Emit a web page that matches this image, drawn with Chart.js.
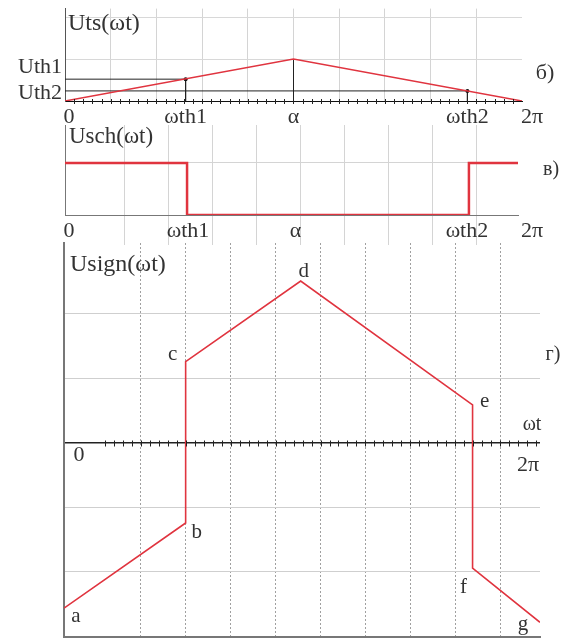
<!DOCTYPE html>
<html>
<head>
<meta charset="utf-8">
<script src="https://cdn.jsdelivr.net/npm/chart.js@4.4.0/dist/chart.umd.min.js"></script>
<style>
  body { margin: 0; background: #fff; }
  #wrap { position: relative; width: 566px; height: 641px; }
  canvas { position: absolute; left: 0; }
</style>
</head>
<body>
<div id="wrap">
  <canvas id="ts" width="566" height="125" style="top:0"></canvas>
  <canvas id="sch" width="566" height="140" style="top:108px"></canvas>
  <canvas id="sign" width="566" height="405" style="top:236px"></canvas>
</div>
<script>
(function () {
    "use strict";

    // angles in degrees, 2π = 360
    var axisLabels = ["0", "ωth1", "α", "ωth2", "2π"];

    // б) Uts(ωt)
    var tsX = [0, 180, 360];
    var tsY = [0, 1, 0];
    var thAngles = [95, 317];      // ωth1, ωth2
    var thLevels = [0.52, 0.24];   // Uth1, Uth2

    // в) Usch(ωt)
    var schX = [0, 97, 97, 321, 321, 360];
    var schY = [1, 1, 0, 0, 1, 1];

    // г) Usign(ωt)
    var signX = [0, 92, 92, 179, 309, 309, 360];
    var signY = [-2.56, -1.24, 1.26, 2.51, 0.59, -1.94, -2.78];
    var signNames = ["a", "b", "c", "d", "e", "f", "g"];

    var RED = "#e0343f";
    var FONT = '"Liberation Serif", "Times New Roman", serif';

    function pts(xs, ys) {
        return xs.map(function (x, i) { return { x: x, y: ys[i] }; });
    }
    function fixedTicks(list) {
        return function (scale) {
            scale.ticks = list.map(function (v) { return { value: v }; });
        };
    }
    function noWidth(s) { s.width = 0; }
    function noHeight(s) { s.height = 0; }

    // Text labels and minor axis ticks
    var textPlugin = {
        id: "texts",
        afterDraw: function (chart, args, opts) {
            var ctx = chart.ctx, sx = chart.scales.x, sy = chart.scales.y;
            var top = chart.canvas.offsetTop;
            ctx.save();
            if (opts.minor) {
                var m = opts.minor;
                var py = Math.round(sy.getPixelForValue(m.y)) + 0.5;
                ctx.strokeStyle = "#222";
                ctx.lineWidth = 1;
                for (var v = m.from; v <= m.to + 0.01; v += m.step) {
                    var px = Math.round(sx.getPixelForValue(v)) + 0.5;
                    ctx.beginPath();
                    ctx.moveTo(px, py - m.len);
                    ctx.lineTo(px, py + m.len);
                    ctx.stroke();
                }
            }
            ctx.fillStyle = "#333";
            ctx.textBaseline = "middle";
            (opts.items || []).forEach(function (t) {
                ctx.font = (t.size || 22) + "px " + FONT;
                ctx.textAlign = t.align || "center";
                var x = t.px !== undefined ? t.px : sx.getPixelForValue(t.x) + (t.dx || 0);
                var y = t.py !== undefined ? t.py - top : sy.getPixelForValue(t.y) + (t.dy || 0);
                ctx.fillText(t.text, x, y);
            });
            ctx.restore();
        }
    };

    function baseOptions(padding, x, y, texts) {
        return {
            responsive: false,
            animation: false,
            layout: { padding: padding },
            plugins: { legend: { display: false }, tooltip: { enabled: false }, texts: texts },
            scales: { x: x, y: y }
        };
    }

    // ---- б) ----
    var tsTexts = [
        { text: "Uts(ωt)", px: 68, py: 24, align: "left", size: 24 },
        { text: "Uth1", px: 62, py: 67, align: "right" },
        { text: "Uth2", px: 62, py: 93, align: "right" },
        { text: "б)", px: 545, py: 73 }
    ];
    var tsKeys = [0, thAngles[0], tsX[1], thAngles[1], 360];
    var tsDx = [4, 0, 0, 0, 10];
    tsKeys.forEach(function (v, i) {
        tsTexts.push({ text: axisLabels[i], x: v, dx: tsDx[i], py: 117 });
    });

    new Chart(document.getElementById("ts"), {
        type: "scatter",
        data: {
            datasets: [
                { data: pts(tsX, tsY), showLine: true, borderColor: RED, borderWidth: 1.5, pointRadius: 0 },
                { data: pts([0, thAngles[0], thAngles[0]], [thLevels[0], thLevels[0], 0]), showLine: true,
                  borderColor: "#222", borderWidth: 1, pointRadius: [0, 2, 0], pointBackgroundColor: "#111", pointBorderWidth: 0 },
                { data: pts([0, thAngles[1], thAngles[1]], [thLevels[1], thLevels[1], 0]), showLine: true,
                  borderColor: "#222", borderWidth: 1, pointRadius: [0, 2, 0], pointBackgroundColor: "#111", pointBorderWidth: 0 },
                { data: pts([tsX[1], tsX[1]], [0, tsY[1]]), showLine: true, borderColor: "#222", borderWidth: 1, pointRadius: 0 }
            ]
        },
        options: baseOptions(
            { left: 65, right: 44, top: 8.6, bottom: 24 },
            { type: "linear", min: 0, max: 360, afterFit: noHeight,
              afterBuildTicks: fixedTicks([36, 72, 108, 144, 180, 216, 252, 288, 324]),
              ticks: { display: false }, grid: { color: "#d4d4d4", drawTicks: false },
              border: { color: "#111", width: 1 } },
            { min: 0, max: 2.2, afterFit: noWidth, afterBuildTicks: fixedTicks([1, 2]),
              ticks: { display: false }, grid: { color: "#d8d8d8", drawTicks: false },
              border: { color: "#555", width: 1 } },
            { items: tsTexts, minor: { y: 0, from: 7.2, to: 356, step: 7.2, len: 2.5 } }
        ),
        plugins: [textPlugin]
    });

    // ---- в) ----
    var schTexts = [
        { text: "Usch(ωt)", px: 69, py: 137, align: "left", size: 23 },
        { text: "в)", px: 551, py: 170, size: 20 }
    ];
    var schKeys = [0, schX[1], 180, schX[3], 360];
    var schDx = [4, 1, 4, -2, 14];
    schKeys.forEach(function (v, i) {
        schTexts.push({ text: axisLabels[i], x: v, dx: schDx[i], py: 231 });
    });

    new Chart(document.getElementById("sch"), {
        type: "scatter",
        data: {
            datasets: [
                { data: pts(schX, schY), showLine: true, borderColor: RED, borderWidth: 2.5, pointRadius: 0 }
            ]
        },
        options: baseOptions(
            { left: 65, right: 48, top: 17, bottom: 33 },
            { type: "linear", min: 0, max: 360, afterFit: noHeight,
              afterBuildTicks: fixedTicks([47, 82, 117, 152, 187, 222, 257, 292, 327]),
              ticks: { display: false }, grid: { color: "#d4d4d4", tickLength: 30 },
              border: { color: "#777", width: 1 } },
            { min: 0, max: 1.73, afterFit: noWidth, afterBuildTicks: fixedTicks([1]),
              ticks: { display: false }, grid: { color: "#d4d4d4", drawTicks: false },
              border: { color: "#777", width: 1 } },
            { items: schTexts }
        ),
        plugins: [textPlugin]
    });

    // ---- г) ----
    var signTexts = [
        { text: "Usign(ωt)", px: 70, py: 265, align: "left", size: 24 },
        { text: "г)", px: 553, py: 355, size: 20 },
        { text: "ωt", px: 532, py: 425, size: 20 },
        { text: "0", px: 79, py: 455 },
        { text: "2π", px: 528, py: 465 }
    ];
    var nameDx = [12, 11, -13, 3, 12, -9, -17];
    var nameDy = [8, 10, -7, -10, -3, 19, 2];
    signNames.forEach(function (n, i) {
        signTexts.push({ text: n, x: signX[i], y: signY[i], dx: nameDx[i], dy: nameDy[i], size: 21 });
    });

    new Chart(document.getElementById("sign"), {
        type: "scatter",
        data: {
            datasets: [
                { data: pts(signX, signY), showLine: true, borderColor: RED, borderWidth: 1.6, pointRadius: 0 }
            ]
        },
        options: baseOptions(
            { left: 64, right: 26, top: 7, bottom: 4.5 },
            { type: "linear", min: 0, max: 360, afterFit: noHeight,
              afterBuildTicks: fixedTicks([58, 92, 126, 160, 194, 228, 262, 296, 330]),
              ticks: { display: false },
              grid: { color: "#a0a0a0", drawTicks: false },
              border: { color: "#777", width: 2, dash: [2, 2] } },
            { min: -3, max: 3.1, afterFit: noWidth, afterBuildTicks: fixedTicks([-2, -1, 0, 1, 2]),
              ticks: { display: false },
              grid: {
                  drawTicks: false,
                  color: function (c) { return c.tick && c.tick.value === 0 ? "#222" : "#cfcfcf"; },
                  lineWidth: function (c) { return c.tick && c.tick.value === 0 ? 1.5 : 1; }
              },
              border: { color: "#777", width: 2 } },
            { items: signTexts, minor: { y: 0, from: 30.8, to: 358, step: 6.8, len: 3 } }
        ),
        plugins: [textPlugin]
    });

})();
</script>
</body>
</html>
